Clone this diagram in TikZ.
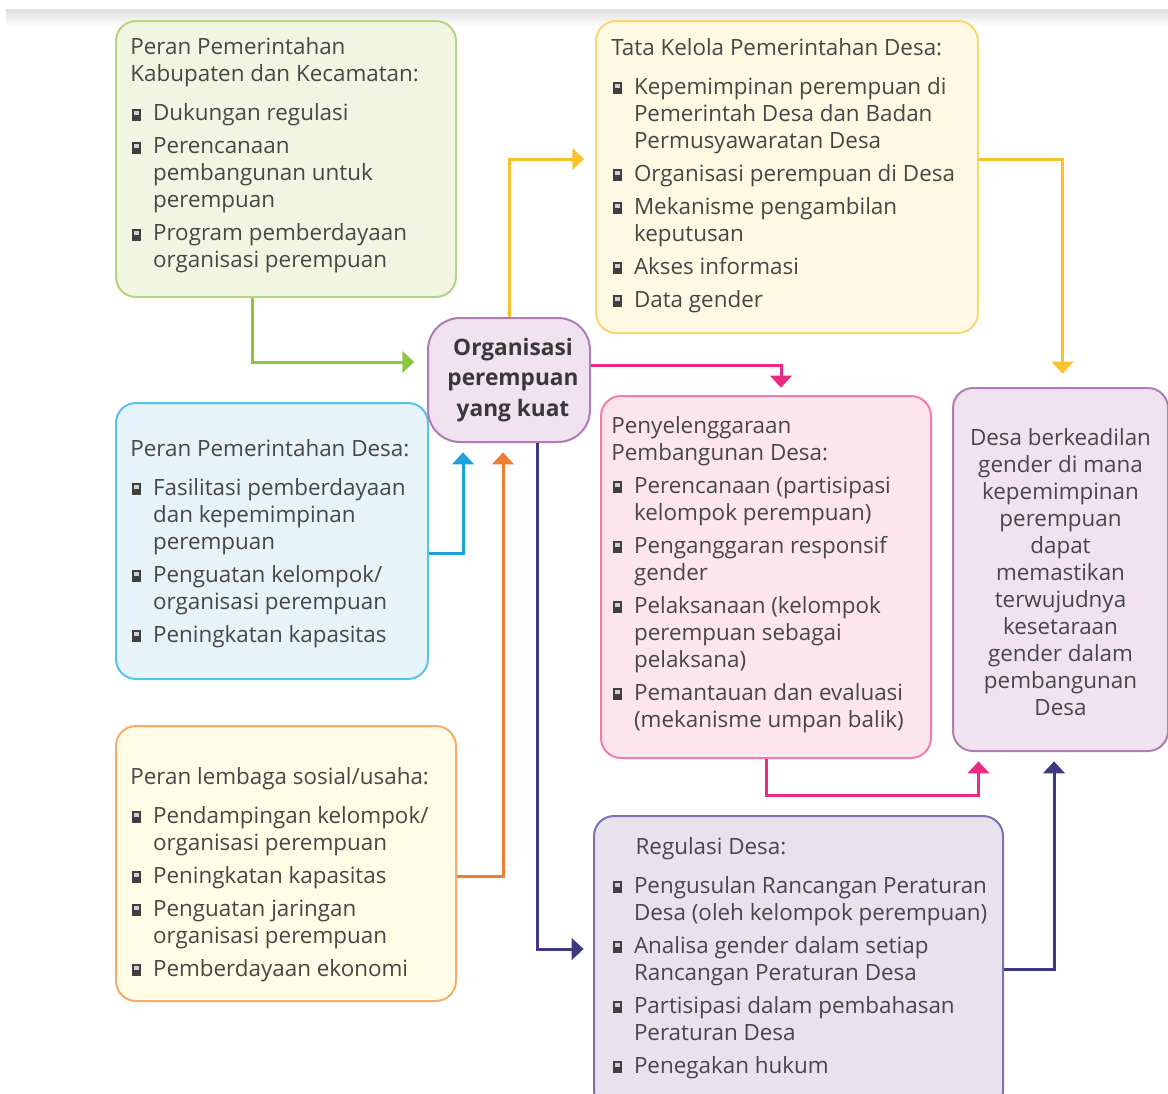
\documentclass[tikz,border=0pt]{standalone}
\usepackage{fontspec}
\setmainfont{Open Sans}
\usepackage{xcolor}
\usepackage{tikz}
\usetikzlibrary{arrows.meta,calc,positioning}

\definecolor{teks}{HTML}{474747}
\definecolor{grnline}{HTML}{B6D47E}
\definecolor{grnfill}{HTML}{F2F5E2}
\definecolor{grnarrow}{HTML}{8CC63F}
\definecolor{ylwline}{HTML}{FAD672}
\definecolor{ylwfill}{HTML}{FFF8E3}
\definecolor{ylwarrow}{HTML}{F8C22E}
\definecolor{bluline}{HTML}{57C2EB}
\definecolor{blufill}{HTML}{E6F3F8}
\definecolor{bluarrow}{HTML}{1BA2DA}
\definecolor{pnkline}{HTML}{F27BAF}
\definecolor{pnkfill}{HTML}{FDE5EE}
\definecolor{pnkarrow}{HTML}{EA2B84}
\definecolor{orgline}{HTML}{F8AC6B}
\definecolor{orgfill}{HTML}{FFFDE6}
\definecolor{orgarrow}{HTML}{EE7D30}
\definecolor{purline}{HTML}{7C72B1}
\definecolor{purfill}{HTML}{E8E1EE}
\definecolor{purarrow}{HTML}{3E3A80}
\definecolor{mgnline}{HTML}{AE7DB2}
\definecolor{mgnfill}{HTML}{F0E2EE}

% bullet: dark block with a light notch
\newcommand{\blt}{\rlap{\textcolor{teks!90!black}{\rule{7pt}{9pt}}}\hspace{1.7pt}\raisebox{4.6pt}{\textcolor{teks!25}{\rule{3.4pt}{3pt}}}}
\newcommand{\itm}[1]{\par\vspace{4.5pt}{\let\\\newline\hangindent=17pt\hangafter=1\noindent\makebox[17pt][l]{\hspace{1.2pt}\blt}#1\par}}
% width, height, left pad, top pad, content
\newcommand{\isi}[5]{\parbox[c][#2][t]{#1}{\raggedright\leftskip=#3\relax\vspace*{#4}#5}}

\begin{document}
\begin{tikzpicture}[x=0.75pt, y=-0.75pt]
    \tikzset{boxnode/.style 2 args={draw=#1, fill=#2, line width=1.5pt, rounded corners=15pt, anchor=north west, inner sep=0pt, text=teks, font=\fontsize{16.8}{20.25}\selectfont}}
    \tikzset{arr/.style={draw=#1, line width=2.25pt, -{Triangle[width=16pt,length=9pt]}, shorten >=7pt}}

    \useasboundingbox (0,0) rectangle (1168,1093);
    \clip (0,0) rectangle (1168,1093);

    % TOP BAND
    \shade[top color=black!13, bottom color=white] (6,9) rectangle (1168,26);

    % BOXES
    \node[boxnode={grnline}{grnfill}] (kab) at (115,20) {\isi{255pt}{207pt}{10.8pt}{12.5pt}{%
        Peran Pemerintahan\\ Kabupaten dan Kecamatan:\par\vspace{4.5pt}
        \itm{Dukungan regulasi}
        \itm{Perencanaan\\ pembangunan untuk\\ perempuan}
        \itm{Program pemberdayaan\\ organisasi perempuan}}};

    \node[boxnode={ylwline}{ylwfill}] (tata) at (595,20) {\isi{286.5pt}{234pt}{11.5pt}{13pt}{%
        Tata Kelola Pemerintahan Desa:\par\vspace{4.5pt}
        \itm{Kepemimpinan perempuan di\\ Pemerintah Desa dan Badan\\ Permusyawaratan Desa}
        \itm{Organisasi perempuan di Desa}
        \itm{Mekanisme pengambilan\\ keputusan}
        \itm{Akses informasi}
        \itm{Data gender}}};

    \node[boxnode={bluline}{blufill}] (desa) at (115,402) {\isi{234pt}{207pt}{10.8pt}{27.25pt}{%
        Peran Pemerintahan Desa:\par\vspace{4.5pt}
        \itm{Fasilitasi pemberdayaan\\ dan kepemimpinan\\ perempuan}
        \itm{Penguatan kelompok/\\ organisasi perempuan}
        \itm{Peningkatan kapasitas}}};

    \node[boxnode={orgline}{orgfill}] (lem) at (115,725) {\isi{255pt}{206.25pt}{10.8pt}{31pt}{%
        Peran lembaga sosial/usaha:\par\vspace{4.5pt}
        \itm{Pendampingan kelompok/\\ organisasi perempuan}
        \itm{Peningkatan kapasitas}
        \itm{Penguatan jaringan\\ organisasi perempuan}
        \itm{Pemberdayaan ekonomi}}};

    \node[boxnode={pnkline}{pnkfill}] (peny) at (600,395) {\isi{247.5pt}{271.5pt}{7.8pt}{15.25pt}{%
        Penyelenggaraan\\ Pembangunan Desa:
        \itm{Perencanaan (partisipasi\\ kelompok perempuan)}
        \itm{Penganggaran responsif\\ gender}
        \itm{Pelaksanaan (kelompok\\ perempuan sebagai\\ pelaksana)}
        \itm{Pemantauan dan evaluasi\\ (mekanisme umpan balik)}}};

    \node[boxnode={purline}{purfill}] (reg) at (593,815) {\isi{306.75pt}{221.25pt}{13pt}{16pt}{%
        \hspace*{18.2pt}Regulasi Desa:\par\vspace{4.5pt}
        \itm{Pengusulan Rancangan Peraturan\\ Desa (oleh kelompok perempuan)}
        \itm{Analisa gender dalam setiap\\ Rancangan Peraturan Desa}
        \itm{Partisipasi dalam pembahasan\\ Peraturan Desa}
        \itm{Penegakan hukum}}};

    \node[boxnode={mgnline}{mgnfill}] (hasil) at (952,387) {\parbox[c][272.25pt][t]{161.25pt}{\centering\vspace*{30.25pt}%
        Desa berkeadilan\\ gender di mana\\ kepemimpinan\\ perempuan\\ dapat\\ memastikan\\ terwujudnya\\ kesetaraan\\ gender dalam\\ pembangunan\\ Desa}};

    \node[draw=mgnline, fill=mgnfill, line width=1.5pt, rounded corners=24pt, minimum width=121.5pt, minimum height=93pt, align=center, text=black!78, font=\bfseries\fontsize{17}{23}\selectfont] (org) at (509,380) {\hspace*{6pt}Organisasi\\ \hspace*{6pt}perempuan\\ \hspace*{6pt}yang kuat};

    % ARROWS
    \draw[arr=grnarrow, shorten >=9.5pt] ($(kab.south west)+(137,0)$) |- ($(org.west)+(0,-18)$);
    \draw[arr=ylwarrow, shorten >=8pt] (org.north) |- ($(tata.west)+(0,-18)$);
    \draw[arr=ylwarrow, shorten >=10pt] ($(tata.east)+(0,-18)$) -| ($(hasil.north)+(2,0)$);
    \draw[arr=pnkarrow, shorten >=5.5pt] ($(org.east)+(0,-15)$) -| ($(peny.north)+(15,0)$);
    \draw[arr=pnkarrow] (peny.south) -- ++(0,36) -| ($(hasil.south)+(-82,0)$);
    \draw[arr=purarrow] ($(org.south)+(28,0)$) |- ($(reg.west)+(0,-14.5)$);
    \draw[arr=purarrow] ($(reg.east)+(0,5.5)$) -| ($(hasil.south)+(-6.5,0)$);
    \draw[arr=bluarrow] ($(desa.east)+(0,12)$) -| ($(org.south)+(-46,0)$);
    \draw[arr=orgarrow] ($(lem.east)+(0,12.5)$) -| ($(org.south)+(-6,0)$);
\end{tikzpicture}
\end{document}
